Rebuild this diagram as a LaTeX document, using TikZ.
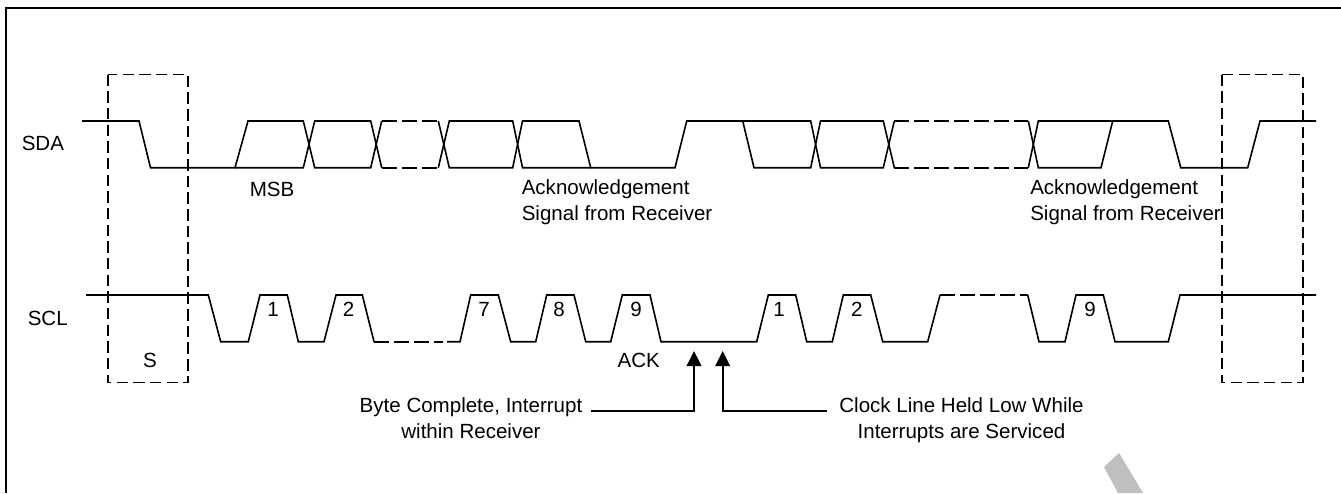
\documentclass[tikz,border=0pt]{standalone}
\usepackage{fontspec}
\setmainfont{Liberation Sans}
\usetikzlibrary{arrows.meta}
\tikzset{
  wave/.style={line width=1.2pt,line join=miter},
  dashwave/.style={line width=1.2pt,dash pattern=on 11.25pt off 3.75pt},
  dashbox/.style={line width=1.4pt,dash pattern=on 8.6pt off 3.9pt},
  lab/.style={font=\fontsize{15.4}{19.3}\selectfont,inner sep=0pt,align=left},
  labc/.style={font=\fontsize{15.4}{19.3}\selectfont,inner sep=0pt,align=center},
  pointer/.style={line width=1.4pt,-{Triangle[length=11.25pt,width=10.9pt]}}
}
\begin{document}
\begin{tikzpicture}[x=0.75pt,y=-0.75pt]
\useasboundingbox (0,0) rectangle (1341,493);
\fill[white] (0,0) rectangle (1341,493);
% frame
\draw[line width=1.5pt] (5.5,493) -- (5.5,7.7) -- (1341,7.7);
% watermark
\fill[black!25] (1104,467) -- (1119,453) -- (1143,493) -- (1118,493) -- cycle;
% SDA
\draw[wave] (82,121) -- (139,121) -- (150.5,167.7) -- (235,167.7) -- (248,121) -- (303.3,121) -- (314.7,167.7) -- (370.7,167.7) -- (381.7,121);
\draw[wave] (235,167.7) -- (303.3,167.7) -- (314.7,121) -- (370.7,121) -- (381.7,167.7);
\draw[dashwave] (381.7,121) -- (438.3,121);
\draw[dashwave] (381.7,167.7) -- (438.3,167.7);
\draw[wave] (438.3,121) -- (449.3,167.7) -- (512.7,167.7) -- (522.5,121) -- (579,121) -- (590.7,167.7) -- (675,167.7) -- (686.7,121) -- (742.7,121) -- (754,167.7) -- (810.7,167.7) -- (820.5,121) -- (883.3,121) -- (894.3,167.7);
\draw[wave] (438.3,167.7) -- (449.3,121) -- (512.7,121) -- (522.5,167.7) -- (590.7,167.7);
\draw[wave] (742.7,121) -- (810.7,121) -- (820.5,167.7) -- (883.3,167.7) -- (894.3,121);
\draw[dashwave] (894.3,121) -- (1028.3,121);
\draw[dashwave] (894.3,167.7) -- (1028.3,167.7);
\draw[wave] (1028.3,121) -- (1038.3,167.7) -- (1101,167.7) -- (1112.7,121) -- (1168.3,121) -- (1180.7,167.7) -- (1247.7,167.7) -- (1260,121) -- (1316,121);
\draw[wave] (1028.3,167.7) -- (1038.3,121) -- (1112.7,121);
% SCL
\draw[wave] (86,295) -- (208.3,295) -- (220.7,341.7) -- (248.3,341.7) -- (260,295) -- (287.3,295) -- (298.3,341.7) -- (324,341.7) -- (336,295) -- (362.3,295) -- (374,341.7);
\draw[dashwave] (374,341.7) -- (443,341.7);
\draw[wave] (447,341.7) -- (460,341.7) -- (470.7,295) -- (498.3,295) -- (510.7,341.7) -- (535.7,341.7) -- (546.7,295) -- (574,295) -- (585.7,341.7) -- (610.7,341.7) -- (622.3,295) -- (650,295) -- (661,341.7) -- (756.7,341.7) -- (768.3,295) -- (795.7,295) -- (806.7,341.7) -- (832.3,341.7) -- (843.3,295) -- (870.7,295) -- (882.7,341.7) -- (927.7,341.7) -- (940,295);
\draw[dashwave] (940,295) -- (1027.7,295);
\draw[wave] (1027.7,295) -- (1039,341.7) -- (1065,341.7) -- (1076,295) -- (1103.3,295) -- (1115,341.7) -- (1168.3,341.7) -- (1180,295) -- (1316,295);
% dashed boxes
\draw[dashbox] (108,74.5) rectangle (188,382.5);
\draw[dashbox] (1222,74.5) rectangle (1303,382.5);
% labels
\node[lab,anchor=base west] (sda) at (21.5,150.7) {SDA};
\node[lab,anchor=base west] (scl) at (27.5,325) {SCL};
\node[lab,anchor=base west] (msb) at (249.5,196.7) {MSB};
\node[lab,anchor=base west] (ack1) at (521.5,220.7) {Acknowledgement\\Signal from Receiver};
\node[lab,anchor=base west] (ack2) at (1030,220.7) {Acknowledgement\\Signal from Receiver};
\node[lab,anchor=base] (s) at (150,367.3) {S};
\node[lab,anchor=base] (n1) at (273,316.7) {1};
\node[lab,anchor=base] (n2) at (348.7,316.7) {2};
\node[lab,anchor=base] (n7) at (484,316.7) {7};
\node[lab,anchor=base] (n8) at (559,316.7) {8};
\node[lab,anchor=base] (n9) at (636,316.7) {9};
\node[lab,anchor=base] (n1b) at (779,316.7) {1};
\node[lab,anchor=base] (n2b) at (856.7,316.7) {2};
\node[lab,anchor=base] (n9b) at (1090,316.7) {9};
\node[lab,anchor=base] (ackl) at (638.7,367.3) {ACK};
\node[labc,anchor=base] (bc) at (471,438.3) {Byte Complete, Interrupt\\within Receiver};
\node[labc,anchor=base] (cl) at (961.5,438.3) {Clock Line Held Low While\\Interrupts are Serviced};
\coordinate (a1) at (694,351);
\coordinate (a2) at (722.7,351);
\coordinate (b1) at (590.7,411);
\coordinate (b2) at (826.7,411);
\draw[pointer] (b1) -| (a1);
\draw[pointer] (b2) -| (a2);
\end{tikzpicture}
\end{document}
